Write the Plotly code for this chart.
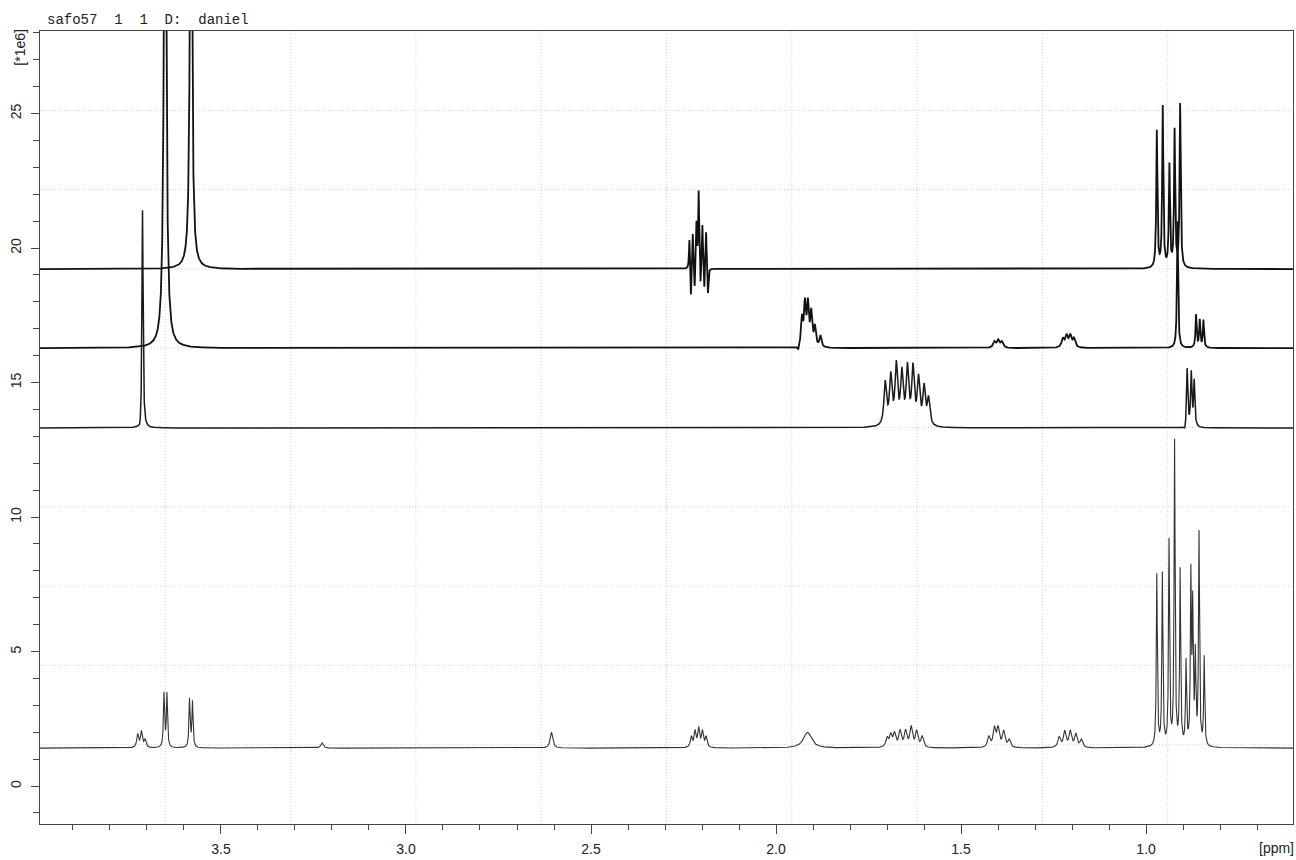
import numpy as np
import plotly.graph_objects as go

# ---------------- data ----------------
TITLE = "safo57  1  1  D:  daniel"
X_TICKS = [3.5, 3.0, 2.5, 2.0, 1.5, 1.0]
X_TICK_LABELS = ["3.5", "3.0", "2.5", "2.0", "1.5", "1.0"]
Y_TICKS = [0, 5, 10, 15, 20, 25]
Y_TICK_LABELS = ["0", "5", "10", "15", "20", "25"]
X_RANGE = [3.989, 0.603]
Y_RANGE = [-1.41, 28.07]

# 1H spectrum (bottom)
h1_base = 1.41
h1_ppm = [3.725, 3.715, 3.705, 3.654, 3.646, 3.585, 3.577, 3.227, 2.607,
          2.229, 2.219, 2.209, 2.199, 2.189,
          1.915,
          1.700, 1.690, 1.680, 1.665, 1.650, 1.635, 1.620, 1.605,
          1.425, 1.410, 1.400, 1.385, 1.370,
          1.235, 1.220, 1.205, 1.190, 1.175,
          0.971, 0.956, 0.938, 0.923, 0.908, 0.892, 0.879, 0.874, 0.867, 0.857, 0.843]
h1_int = [1.9, 2.0, 1.7, 3.4, 3.4, 3.2, 3.1, 1.6, 2.0,
          1.8, 2.0, 2.1, 2.0, 1.8,
          2.0,
          1.75, 1.85, 1.9, 2.0, 2.0, 2.15, 2.0, 1.8,
          1.8, 2.1, 2.1, 2.0, 1.7,
          1.8, 2.0, 2.0, 1.9, 1.7,
          7.8, 7.8, 9.0, 12.7, 7.9, 4.5, 7.6, 6.4, 4.7, 9.3, 4.7]
h1_hw = [0.003, 0.003, 0.003, 0.0018, 0.0018, 0.0018, 0.0018, 0.004, 0.004,
         0.003, 0.003, 0.003, 0.003, 0.003,
         0.013,
         0.004, 0.004, 0.004, 0.004, 0.004, 0.004, 0.004, 0.004,
         0.004, 0.004, 0.004, 0.004, 0.004,
         0.004, 0.004, 0.004, 0.004, 0.004,
         0.0016, 0.0016, 0.0016, 0.0016, 0.0016, 0.0016, 0.0016, 0.0016, 0.0016, 0.0016, 0.0016]

# selective trace 1 (baseline ~13.3)
s1_base = 13.31
s1_ppm = [3.718, 3.712,
          1.705, 1.690, 1.675, 1.660, 1.645, 1.630, 1.615, 1.600, 1.588,
          0.889, 0.878, 0.870, 0.895]
s1_int = [13.0, 21.5,
          14.9, 15.1, 15.5, 15.2, 15.4, 15.4, 15.0, 14.7, 14.3,
          15.5, 15.3, 15.0, 13.1]
s1_hw = [0.004, 0.0018,
         0.004, 0.004, 0.004, 0.004, 0.004, 0.004, 0.004, 0.004, 0.004,
         0.002, 0.002, 0.002, 0.003]

# selective trace 2 (baseline ~16.3)
s2_base = 16.28
s2_ppm = [3.651,
          1.940, 1.930, 1.922, 1.914, 1.905, 1.895, 1.880,
          1.410, 1.400, 1.390,
          1.225, 1.215, 1.205, 1.195,
          0.915, 0.865, 0.855, 0.845]
s2_int = [40.0,
          16.1, 17.3, 17.8, 17.8, 17.5, 17.0, 16.7,
          16.5, 16.55, 16.5,
          16.6, 16.7, 16.7, 16.6,
          21.0, 17.5, 17.3, 17.3]
s2_hw = [0.0035,
         0.003, 0.003, 0.003, 0.003, 0.003, 0.003, 0.003,
         0.004, 0.004, 0.004,
         0.004, 0.004, 0.004, 0.004,
         0.0018, 0.0018, 0.0018, 0.0018]

# selective trace 3 (top, baseline ~19.2)
s3_base = 19.22
s3_ppm = [3.581,
          2.234, 2.230, 2.225, 2.220, 2.215, 2.209, 2.204, 2.199, 2.194, 2.189, 2.184,
          0.971, 0.955, 0.937, 0.923, 0.908]
s3_int = [40.0,
          20.4, 18.0, 20.6, 18.3, 20.9, 22.1, 18.4, 20.9, 18.3, 20.7, 18.2,
          24.3, 25.2, 23.0, 24.3, 25.3]
s3_hw = [0.003,
         0.0015, 0.0015, 0.0015, 0.0015, 0.0015, 0.0015, 0.0015, 0.0015, 0.0015, 0.0015, 0.0015,
         0.0018, 0.0018, 0.0018, 0.0018, 0.0018]

TRACES = [
    (h1_base, h1_ppm, h1_int, h1_hw, "#333333", 1.1),
    (s1_base, s1_ppm, s1_int, s1_hw, "#1a1a1a", 1.5),
    (s2_base, s2_ppm, s2_int, s2_hw, "#111111", 1.8),
    (s3_base, s3_ppm, s3_int, s3_hw, "#111111", 1.8),
]

# ---------------- build figure ----------------
ppm_axis = np.linspace(X_RANGE[0], X_RANGE[1], 16000)

def spectrum(base, pos, heights, hws):
    y = np.full_like(ppm_axis, base)
    for p, h, w in zip(pos, heights, hws):
        y += (h - base) * w * w / (w * w + (ppm_axis - p) ** 2)
    return y

fig = go.Figure()
for base, pos, heights, hws, col, lw in TRACES:
    fig.add_trace(go.Scatter(x=ppm_axis, y=spectrum(base, pos, heights, hws),
                             mode="lines", line=dict(color=col, width=lw),
                             hoverinfo="skip", showlegend=False))

# dotted grid at tenths of the frame (as in TopSpin plots)
shapes = []
for k in range(1, 10):
    shapes.append(dict(type="line", xref="paper", yref="paper", x0=k / 10, x1=k / 10, y0=0, y1=1,
                       line=dict(color="#d2d2d2", width=1, dash="1px,2px"), layer="below"))
    shapes.append(dict(type="line", xref="paper", yref="paper", x0=0, x1=1, y0=k / 10, y1=k / 10,
                       line=dict(color="#d2d2d2", width=1, dash="1px,2px"), layer="below"))

font_axis = dict(family="Liberation Sans, Arial, sans-serif", size=14, color="#222")

fig.update_layout(
    width=1296, height=860,
    margin=dict(l=40, r=3, t=31, b=36, autoexpand=False),
    paper_bgcolor="white", plot_bgcolor="white",
    shapes=shapes,
    xaxis=dict(range=X_RANGE, tickmode="array", tickvals=X_TICKS, ticktext=X_TICK_LABELS,
               ticks="outside", ticklen=9, tickcolor="#444", tickwidth=1, automargin=False,
               ticklabelstandoff=3,
               minor=dict(dtick=0.1, tick0=0, ticks="outside", ticklen=5, tickcolor="#444", showgrid=False),
               showgrid=False, zeroline=False, showline=True, linecolor="#444", linewidth=1.2,
               mirror=True, tickfont=font_axis),
    yaxis=dict(range=Y_RANGE, tickmode="array", tickvals=Y_TICKS, ticktext=Y_TICK_LABELS,
               ticks="outside", ticklen=8, tickcolor="#444", tickwidth=1, tickangle=-90,
               automargin=False, ticklabelstandoff=4,
               minor=dict(dtick=1, tick0=0, ticks="outside", ticklen=6, tickcolor="#444", showgrid=False),
               showgrid=False, zeroline=False, showline=True, linecolor="#444", linewidth=1.2,
               mirror=True, tickfont=font_axis),
    annotations=[
        dict(text=TITLE, xref="paper", yref="paper", x=(45 - 40) / 1253, y=1.0, yshift=1,
             xanchor="left", yanchor="bottom", showarrow=False,
             font=dict(family="Liberation Mono, Courier New, monospace", size=14, color="#222")),
        dict(text="[ppm]", xref="paper", yref="paper", x=0.987, y=0, yshift=-24,
             xanchor="center", yanchor="middle", showarrow=False, font=font_axis),
        dict(text="[*1e6]", xref="paper", yref="paper", x=0, xshift=-20, y=0.979,
             xanchor="center", yanchor="middle", textangle=-90, showarrow=False, font=font_axis),
    ],
)

fig.write_html("out.html", config={"displayModeBar": False},
               post_script="document.body.style.margin='0px';document.body.style.overflow='hidden';")
